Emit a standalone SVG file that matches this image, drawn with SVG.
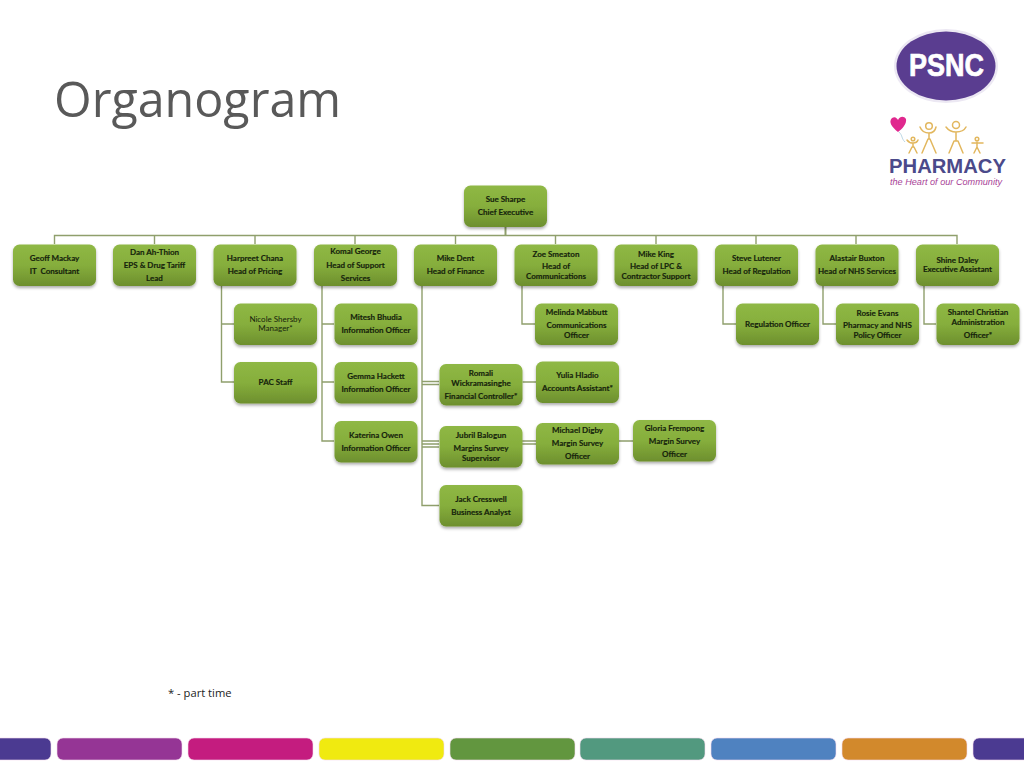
<svg xmlns="http://www.w3.org/2000/svg" width="1024" height="768" viewBox="0 0 1024 768">
<style>
.box{fill:url(#g);filter:url(#s)}
.t{font:bold 8px Lato,"Liberation Sans",Arial,sans-serif;fill:#16240c;stroke:#16240c;stroke-width:.15;text-anchor:middle}
.n{font-weight:normal;stroke:none}
.c{fill:none;stroke:#8f9f6c;stroke-width:1.4}
.b{stroke:#f3d9ec;stroke-width:.6}
.f{fill:none;stroke:#e2b75e;stroke-width:1.5;stroke-linecap:round;stroke-linejoin:round}
</style>
<defs>
<linearGradient id="g" x1="0" y1="0" x2="0" y2="1"><stop offset="0" stop-color="#8fb845"/><stop offset=".5" stop-color="#86ae3c"/><stop offset="1" stop-color="#6d8f2e"/></linearGradient>
<filter id="s" x="-15%" y="-20%" width="130%" height="150%"><feDropShadow dx="0" dy="2" stdDeviation="1.600" flood-color="#000" flood-opacity=".32"/></filter>
<rect id="r" width="83" height="41.500" rx="6.500"/>
</defs>
<rect width="1024" height="768" fill="#fff"/>
<text x="54" y="117" font-family="'Open Sans',sans-serif" font-size="48.400" fill="#595959">Organogram</text>

<g id="connectors" class="c">
<path d="M505.500 227V235.500" stroke-width="2"/>
<path d="M54.500 244V235.500H957V244M154.500 235.500V244M255 235.500V244M355 235.500V244M455.500 235.500V244M555.500 235.500V244M656 235.500V244M756 235.500V244M856 235.500V244"/>
<path d="M221.500 286V382H234M221.500 324H234"/>
<path d="M322 286V441H334M322 324H334M322 382H334"/>
<path d="M422 286V505.500H439M422 381.500H439M422 384.500H439M422 441H439M422 444H439M422 447H439"/>
<path d="M522 286V324H535M522.500 382H536M522 441H536M522 444H536M619 441H633"/>
<path d="M723 286V324H736M823 286V324H836M924 286V324H936"/>
</g>

<g id="sue"><use href="#r" class="box" x="464" y="185.500"/><text class="t" x="505.500" y="202">Sue Sharpe</text><text class="t" x="505.500" y="215">Chief Executive</text></g>
<g id="geoff"><use href="#r" class="box" x="13" y="244.500"/><text class="t" x="54.500" y="261">Geoff Mackay</text><text class="t" x="54.500" y="274" xml:space="preserve">IT  Consultant</text></g>
<g id="dan"><use href="#r" class="box" x="113" y="244.500"/><text class="t" x="154.500" y="255">Dan Ah-Thion</text><text class="t" x="154.500" y="268">EPS &amp; Drug Tariff</text><text class="t" x="154.500" y="281">Lead</text></g>
<g id="harpreet"><use href="#r" class="box" x="213.500" y="244.500"/><text class="t" x="255" y="261">Harpreet Chana</text><text class="t" x="255" y="274">Head of Pricing</text></g>
<g id="komal"><use href="#r" class="box" x="314" y="244.500"/><text class="t" x="355.500" y="254">Komal George</text><text class="t" x="355.500" y="268">Head of Support</text><text class="t" x="355.500" y="281">Services</text></g>
<g id="mike-dent"><use href="#r" class="box" x="414" y="244.500"/><text class="t" x="455.500" y="261">Mike Dent</text><text class="t" x="455.500" y="274">Head of Finance</text></g>
<g id="zoe"><use href="#r" class="box" x="514.500" y="244.500"/><text class="t" x="556" y="256.500">Zoe Smeaton</text><text class="t" x="556" y="269">Head of</text><text class="t" x="556" y="279">Communications</text></g>
<g id="mike-king"><use href="#r" class="box" x="614.500" y="244.500"/><text class="t" x="656" y="256.500">Mike King</text><text class="t" x="656" y="269">Head of LPC &amp;</text><text class="t" x="656" y="279">Contractor Support</text></g>
<g id="steve"><use href="#r" class="box" x="715" y="244.500"/><text class="t" x="756.500" y="261">Steve Lutener</text><text class="t" x="756.500" y="274">Head of Regulation</text></g>
<g id="alastair"><use href="#r" class="box" x="815.500" y="244.500"/><text class="t" x="857" y="261">Alastair Buxton</text><text class="t" x="857" y="274">Head of NHS Services</text></g>
<g id="shine"><use href="#r" class="box" x="916" y="244.500"/><text class="t" x="957.500" y="263">Shine Daley</text><text class="t" x="957.500" y="272">Executive Assistant</text></g>

<g id="nicole"><use href="#r" class="box" x="234" y="303.500"/><text class="t n" x="275.500" y="322">Nicole Shersby</text><text class="t n" x="275.500" y="331">Manager*</text></g>
<g id="pac"><use href="#r" class="box" x="234" y="362"/><text class="t" x="275.500" y="385">PAC Staff</text></g>
<g id="mitesh"><use href="#r" class="box" x="334.500" y="303.500"/><text class="t" x="376" y="320">Mitesh Bhudia</text><text class="t" x="376" y="333">Information Officer</text></g>
<g id="gemma"><use href="#r" class="box" x="334.500" y="362"/><text class="t" x="376" y="379">Gemma Hackett</text><text class="t" x="376" y="392">Information Officer</text></g>
<g id="katerina"><use href="#r" class="box" x="334.500" y="421"/><text class="t" x="376" y="438">Katerina Owen</text><text class="t" x="376" y="451">Information Officer</text></g>
<g id="romali"><use href="#r" class="box" x="439.500" y="364"/><text class="t" x="481" y="376">Romali</text><text class="t" x="481" y="386">Wickramasinghe</text><text class="t" x="481" y="399">Financial Controller*</text></g>
<g id="yulia"><use href="#r" class="box" x="536" y="361.500"/><text class="t" x="577.500" y="378">Yulia Hladio</text><text class="t" x="577.500" y="391">Accounts Assistant*</text></g>
<g id="jubril"><use href="#r" class="box" x="439.500" y="426"/><text class="t" x="481" y="438">Jubril Balogun</text><text class="t" x="481" y="451">Margins Survey</text><text class="t" x="481" y="461">Supervisor</text></g>
<g id="michael"><use href="#r" class="box" x="536" y="423"/><text class="t" x="577.500" y="433">Michael Digby</text><text class="t" x="577.500" y="446">Margin Survey</text><text class="t" x="577.500" y="459">Officer</text></g>
<g id="gloria"><use href="#r" class="box" x="633" y="420"/><text class="t" x="674.500" y="430.500">Gloria Frempong</text><text class="t" x="674.500" y="444">Margin Survey</text><text class="t" x="674.500" y="456.500">Officer</text></g>
<g id="jack"><use href="#r" class="box" x="439.500" y="485"/><text class="t" x="481" y="501.500">Jack Cresswell</text><text class="t" x="481" y="514.500">Business Analyst</text></g>
<g id="melinda"><use href="#r" class="box" x="535" y="303.500"/><text class="t" x="576.500" y="315">Melinda Mabbutt</text><text class="t" x="576.500" y="328">Communications</text><text class="t" x="576.500" y="338">Officer</text></g>
<g id="regulation"><use href="#r" class="box" x="736" y="303.500"/><text class="t" x="777.500" y="327">Regulation Officer</text></g>
<g id="rosie"><use href="#r" class="box" x="836" y="303.500"/><text class="t" x="877.500" y="315.500">Rosie Evans</text><text class="t" x="877.500" y="328">Pharmacy and NHS</text><text class="t" x="877.500" y="338">Policy Officer</text></g>
<g id="shantel"><use href="#r" class="box" x="936.500" y="303.500"/><text class="t" x="978" y="315">Shantel Christian</text><text class="t" x="978" y="325">Administration</text><text class="t" x="978" y="338">Officer*</text></g>

<text x="168" y="697" font-family="'Open Sans',sans-serif" font-size="11.200" fill="#222">* - part time</text>

<g id="psnc-logo">
<ellipse cx="946" cy="66" rx="52" ry="37" fill="#ece8f3"/>
<ellipse cx="946" cy="66" rx="49.500" ry="34.500" fill="#5a3d90"/>
<text x="909" y="76" font-family="'Liberation Sans',sans-serif" font-weight="bold" font-size="30.500" fill="#fff" stroke="#fff" stroke-width=".7" textLength="75" lengthAdjust="spacingAndGlyphs">PSNC</text>
</g>
<g id="pharmacy-logo">
<path d="M898 132C892 127 888 122 892 118C895 116 897 118 898 120C900 116 904 116 906 119C907 124 902 129 898 132Z" fill="#e0288e"/>
<path d="M899 132C903 136 901 138 905 142" fill="none" stroke="#9fc6d8" stroke-width=".7"/>
<g class="f">
<circle cx="913" cy="139" r="1.800"/><path d="M907 140C909 143 911 143 913 143C915 143 917 143 918 140M913 143V147M909 153L912 147H914L917 153"/>
<circle cx="929" cy="126" r="3.300"/><path d="M920 127C922 132 926 133 929 133C932 133 935 132 936 127M929 133V139M922 153L928 139H930L936 153"/>
<circle cx="956" cy="125" r="3.500"/><path d="M946 127C949 131 953 132 956 132C960 132 964 131 966 127M956 132V141M949 153L954 141H958L963 153"/>
<circle cx="977" cy="139" r="1.800"/><path d="M972 143H983M977 142V147M974 153L977 147L980 153"/>
</g>
<text x="889" y="172.500" font-family="'Liberation Sans',sans-serif" font-weight="bold" font-size="21" fill="#4b4a8a" textLength="117" lengthAdjust="spacingAndGlyphs">PHARMACY</text>
<text x="890" y="184.500" font-family="'Liberation Sans',sans-serif" font-style="italic" font-size="9.500" fill="#a83f97" textLength="112" lengthAdjust="spacingAndGlyphs">the Heart of our Community</text>
</g>

<g id="colour-bar">
<rect class="b" x="-12" y="738" width="63" height="22" rx="6" fill="#4b3a91"/>
<rect class="b" x="57" y="738" width="125" height="22" rx="6" fill="#953595"/>
<rect class="b" x="188" y="738" width="125" height="22" rx="6" fill="#c41c7f"/>
<rect class="b" x="319" y="738" width="125" height="22" rx="6" fill="#f0ea10"/>
<rect class="b" x="450" y="738" width="125" height="22" rx="6" fill="#62963f"/>
<rect class="b" x="580" y="738" width="125" height="22" rx="6" fill="#52997f"/>
<rect class="b" x="711" y="738" width="125" height="22" rx="6" fill="#4f82c0"/>
<rect class="b" x="842" y="738" width="125" height="22" rx="6" fill="#d2892c"/>
<rect class="b" x="973" y="738" width="63" height="22" rx="6" fill="#4b3a91"/>
</g>
</svg>
